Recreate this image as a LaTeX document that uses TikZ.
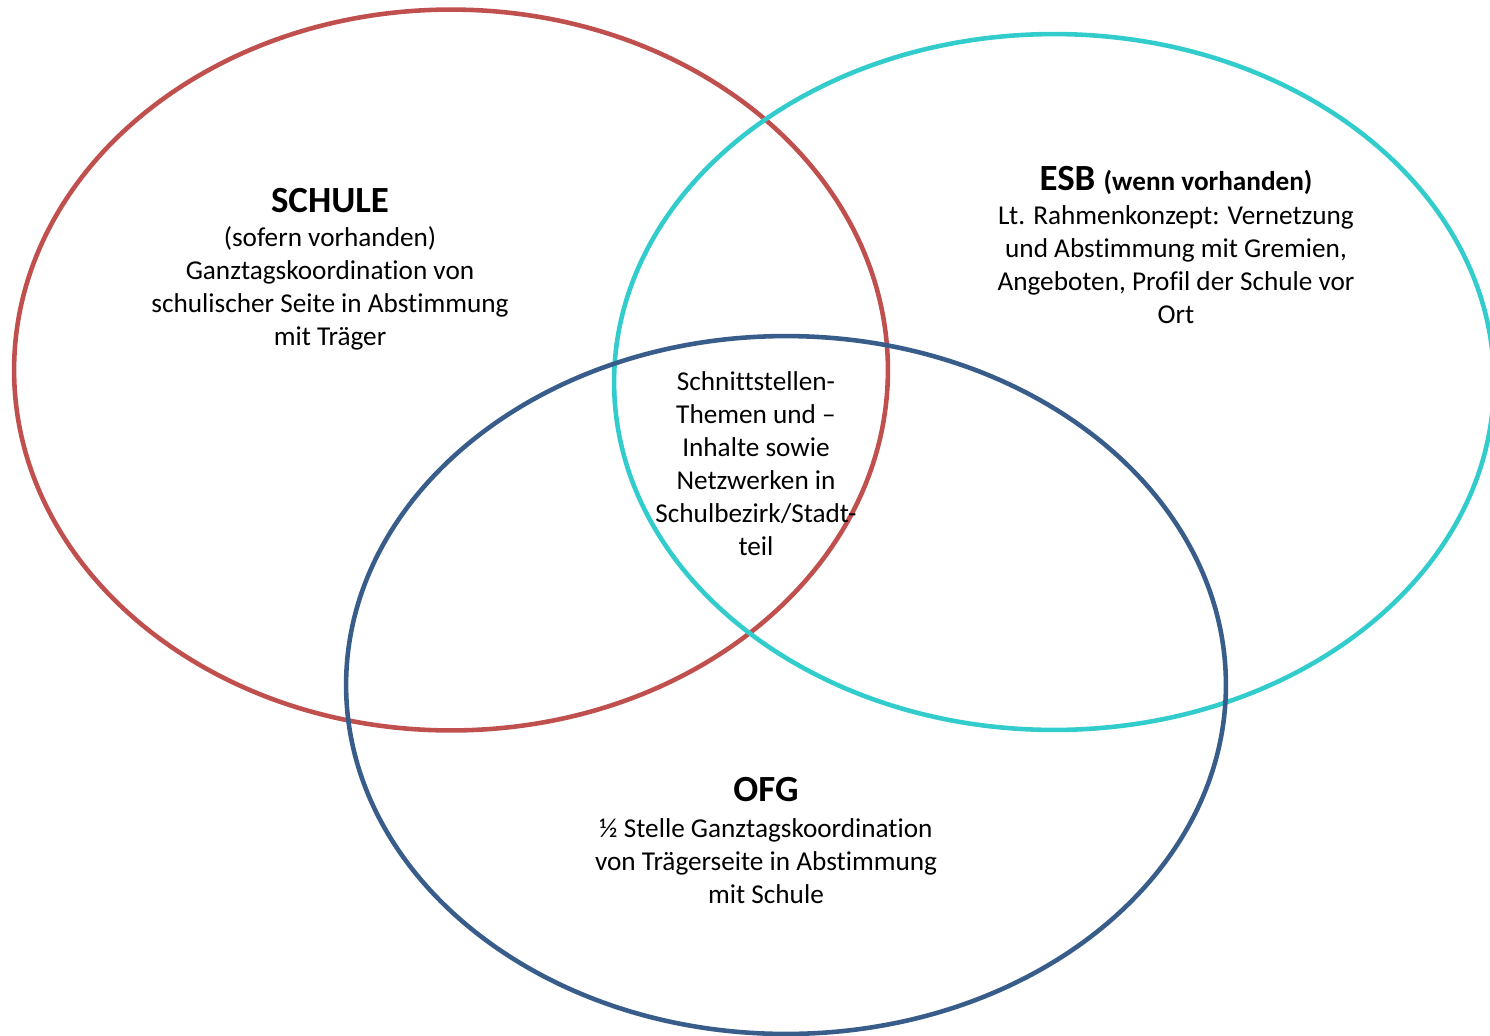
\documentclass[tikz,border=0pt]{standalone}
\usepackage{fontspec}
\setmainfont[Ligatures=NoCommon]{Carlito}
\usetikzlibrary{shapes.geometric}
\definecolor{schulrot}{HTML}{C0504D}
\definecolor{esbtuerkis}{HTML}{33CCCC}
\definecolor{ofgblau}{HTML}{385D8A}
\tikzset{
  kreis/.style={ellipse, draw, line width=2.6pt, inner sep=0pt},
  titel/.style={font=\fontsize{21}{24}\selectfont\bfseries, inner sep=0pt},
  rumpf/.style={font=\fontsize{15.5}{18.8}\selectfont, align=center, inner sep=0pt}
}
\begin{document}
\begin{tikzpicture}[x=0.02cm, y=-0.02cm]
\useasboundingbox (0,0) rectangle (1490,1035);
\clip (0,0) rectangle (1490,1035);
% die drei Kreise
\node [kreis, schulrot, minimum width=17.48cm, minimum height=14.42cm] (schule) at (451,370) {};
\node [kreis, esbtuerkis, minimum width=17.6cm, minimum height=13.92cm] (esb) at (1054,382) {};
\node [kreis, ofgblau, minimum width=17.6cm, minimum height=13.96cm] (ofg) at (786,685) {};
% Texte
\node [titel] (schuletitel) at (330,201) {SCHULE};
\node [rumpf] (schuletext) at (330,288) {(sofern vorhanden)\\Ganztagskoordination von\\schulischer Seite in Abstimmung\\mit Träger};
\node [titel] (esbtitel) at (1176,180) {ESB {\fontsize{15.5}{18.8}\selectfont (wenn vorhanden)}};
\node [rumpf] (esbtext) at (1176,265) {Lt. Rahmenkonzept: Vernetzung\\und Abstimmung mit Gremien,\\Angeboten, Profil der Schule vor\\Ort};
\node [rumpf] (mitte) at (756,464) {Schnittstellen-\\Themen und --\\Inhalte sowie\\Netzwerken in\\Schulbezirk/Stadt-\\teil};
\node [titel] (ofgtitel) at (766,790) {OFG};
\node [rumpf] (ofgtext) at (766,861) {½ Stelle Ganztagskoordination\\von Trägerseite in Abstimmung\\mit Schule};
\end{tikzpicture}
\end{document}
